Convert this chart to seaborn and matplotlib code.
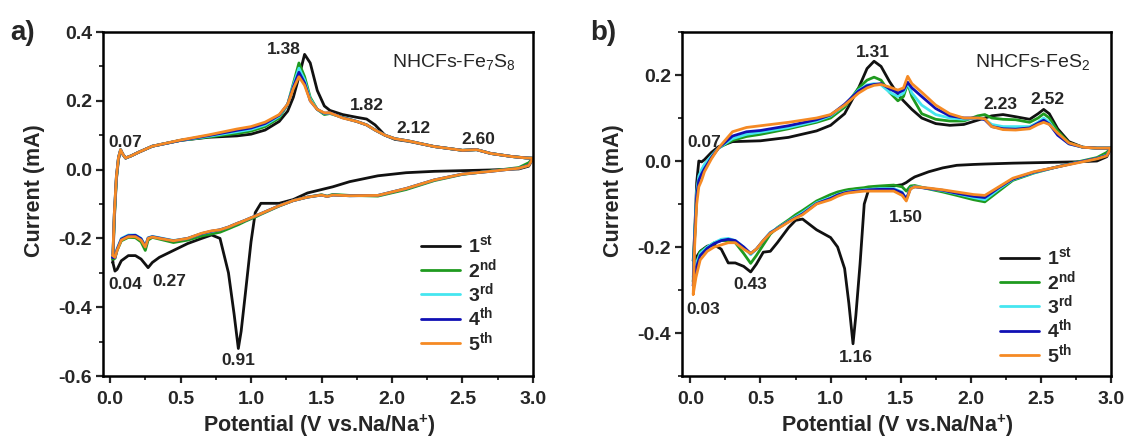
import numpy as np
import pandas as pd
import seaborn as sns
from matplotlib import pyplot as plt
from matplotlib.ticker import MultipleLocator

sns.set_style('ticks')
plt.rcParams['font.family'] = ['Liberation Sans', 'DejaVu Sans']
plt.rcParams['mathtext.fontset'] = 'custom'
plt.rcParams['mathtext.rm'] = 'Liberation Sans'
plt.rcParams['mathtext.it'] = 'Liberation Sans:italic'
plt.rcParams['mathtext.bf'] = 'Liberation Sans:bold'
plt.rcParams['axes.unicode_minus'] = False

cycles = ['1st', '2nd', '3rd', '4th', '5th']
cycle_labels = [r'$\mathbf{1^{st}}$', r'$\mathbf{2^{nd}}$', r'$\mathbf{3^{rd}}$',
                r'$\mathbf{4^{th}}$', r'$\mathbf{5^{th}}$']
colors = ['#111111', '#1f9a1f', '#45e6f0', '#1010b4', '#f58a24']

# ---- panel a: NHCFs-Fe7S8 ----
# anodic sweep (0 -> 3 V)
a_up_v = [0.02, 0.03, 0.045, 0.06, 0.075, 0.09, 0.11, 0.15, 0.2, 0.3, 0.5, 0.7, 0.9, 1.0, 1.1,
          1.2, 1.26, 1.3, 1.34, 1.38, 1.42, 1.47, 1.52, 1.56, 1.65, 1.75, 1.82, 1.88, 1.95, 2.02,
          2.12, 2.3, 2.5, 2.6, 2.7, 2.85, 2.95, 3.0]
a_up_1 = [-0.27, -0.15, -0.03, 0.03, 0.055, 0.045, 0.033, 0.04, 0.05, 0.068, 0.085, 0.094, 0.098,
          0.103, 0.115, 0.14, 0.17, 0.21, 0.27, 0.335, 0.31, 0.23, 0.185, 0.172, 0.16, 0.152, 0.147,
          0.13, 0.1, 0.088, 0.082, 0.067, 0.056, 0.058, 0.047, 0.038, 0.034, 0.033]
a_up_2 = [-0.26, -0.14, -0.025, 0.035, 0.058, 0.045, 0.034, 0.04, 0.05, 0.068, 0.085, 0.095, 0.105,
          0.112, 0.125, 0.15, 0.19, 0.25, 0.31, 0.27, 0.21, 0.175, 0.16, 0.163, 0.152, 0.14, 0.13,
          0.115, 0.1, 0.09, 0.083, 0.067, 0.056, 0.058, 0.047, 0.038, 0.034, 0.033]
a_up_3 = [-0.255, -0.135, -0.022, 0.035, 0.058, 0.045, 0.034, 0.04, 0.05, 0.068, 0.085, 0.097, 0.11,
          0.117, 0.13, 0.155, 0.19, 0.245, 0.295, 0.26, 0.205, 0.175, 0.163, 0.164, 0.151, 0.14, 0.13,
          0.115, 0.1, 0.09, 0.083, 0.067, 0.056, 0.058, 0.047, 0.038, 0.034, 0.033]
a_up_4 = [-0.255, -0.13, -0.02, 0.035, 0.058, 0.045, 0.034, 0.04, 0.05, 0.068, 0.085, 0.099, 0.114,
          0.121, 0.134, 0.158, 0.19, 0.24, 0.283, 0.252, 0.2, 0.175, 0.164, 0.165, 0.151, 0.14, 0.13,
          0.115, 0.1, 0.09, 0.083, 0.067, 0.056, 0.058, 0.047, 0.038, 0.034, 0.033]
a_up_5 = [-0.25, -0.13, -0.02, 0.035, 0.058, 0.045, 0.034, 0.04, 0.05, 0.068, 0.086, 0.101, 0.118,
          0.125, 0.138, 0.16, 0.19, 0.235, 0.27, 0.245, 0.2, 0.175, 0.165, 0.165, 0.15, 0.14, 0.13,
          0.115, 0.1, 0.09, 0.083, 0.067, 0.056, 0.058, 0.047, 0.038, 0.034, 0.033]
# cathodic sweep (3 -> 0 V)
a_lo_v = [3.0, 2.97, 2.9, 2.7, 2.5, 2.3, 2.1, 1.9, 1.7, 1.58, 1.54, 1.5, 1.4, 1.3, 1.2, 1.07, 1.03,
          1.0, 0.96, 0.93, 0.91, 0.88, 0.84, 0.78, 0.72, 0.65, 0.55, 0.45, 0.35, 0.3, 0.27, 0.25,
          0.22, 0.18, 0.13, 0.08, 0.05, 0.035, 0.02]
a_lo_1 = [0.033, 0.01, 0.002, -0.001, -0.003, -0.005, -0.009, -0.018, -0.035, -0.05, -0.054, -0.058,
          -0.068, -0.087, -0.098, -0.098, -0.125, -0.21, -0.36, -0.47, -0.52, -0.42, -0.3, -0.2,
          -0.19, -0.2, -0.215, -0.235, -0.255, -0.27, -0.285, -0.275, -0.26, -0.25, -0.25, -0.265,
          -0.29, -0.295, -0.27]
a_lo_2 = [0.033, 0.02, 0.006, -0.004, -0.014, -0.032, -0.058, -0.077, -0.075, -0.072, -0.077, -0.073,
          -0.08, -0.09, -0.106, -0.13, -0.138, -0.143, -0.15, -0.156, -0.16, -0.165, -0.172, -0.182,
          -0.187, -0.193, -0.205, -0.212, -0.202, -0.197, -0.205, -0.235, -0.21, -0.198, -0.197,
          -0.207, -0.235, -0.258, -0.26]
a_lo_3 = [0.033, 0.013, 0.004, -0.005, -0.013, -0.03, -0.055, -0.075, -0.076, -0.074, -0.078, -0.074,
          -0.08, -0.09, -0.105, -0.128, -0.135, -0.14, -0.147, -0.152, -0.155, -0.16, -0.167, -0.175,
          -0.18, -0.186, -0.2, -0.206, -0.198, -0.194, -0.198, -0.222, -0.2, -0.19, -0.19, -0.2,
          -0.23, -0.255, -0.255]
a_lo_4 = [0.033, 0.013, 0.004, -0.005, -0.013, -0.03, -0.055, -0.075, -0.076, -0.074, -0.078, -0.074,
          -0.08, -0.09, -0.105, -0.128, -0.135, -0.14, -0.147, -0.152, -0.155, -0.16, -0.167, -0.175,
          -0.179, -0.186, -0.2, -0.207, -0.199, -0.195, -0.199, -0.224, -0.201, -0.191, -0.192,
          -0.202, -0.232, -0.256, -0.256]
a_lo_5 = [0.033, 0.012, 0.004, -0.005, -0.013, -0.03, -0.055, -0.075, -0.076, -0.074, -0.078, -0.074,
          -0.08, -0.09, -0.105, -0.128, -0.135, -0.14, -0.147, -0.152, -0.155, -0.16, -0.167, -0.175,
          -0.178, -0.185, -0.2, -0.207, -0.2, -0.196, -0.2, -0.225, -0.205, -0.195, -0.195, -0.205,
          -0.235, -0.255, -0.25]

# ---- panel b: NHCFs-FeS2 ----
b_up_v = [0.02, 0.03, 0.045, 0.06, 0.08, 0.1, 0.15, 0.2, 0.3, 0.4, 0.5, 0.7, 0.9, 1.0, 1.1, 1.2,
          1.26, 1.31, 1.36, 1.42, 1.48, 1.52, 1.55, 1.58, 1.65, 1.75, 1.85, 1.95, 2.05, 2.1, 2.15,
          2.23, 2.32, 2.42, 2.48, 2.52, 2.56, 2.62, 2.7, 2.8, 2.9, 3.0]
b_up_1 = [-0.232, -0.17, -0.05, 0.0, -0.002, 0.003, 0.02, 0.033, 0.045, 0.046, 0.047, 0.055, 0.07,
          0.083, 0.11, 0.17, 0.215, 0.232, 0.22, 0.185, 0.155, 0.14, 0.13, 0.12, 0.1, 0.087, 0.083,
          0.085, 0.095, 0.1, 0.105, 0.108, 0.103, 0.097, 0.11, 0.12, 0.11, 0.075, 0.045, 0.032,
          0.03, 0.03]
b_up_2 = [-0.28, -0.18, -0.08, -0.04, -0.025, -0.01, 0.01, 0.03, 0.048, 0.057, 0.062, 0.075, 0.09,
          0.1, 0.125, 0.17, 0.188, 0.195, 0.188, 0.16, 0.14, 0.15, 0.18, 0.15, 0.11, 0.097, 0.093,
          0.093, 0.105, 0.108, 0.1, 0.097, 0.096, 0.09, 0.1, 0.11, 0.1, 0.07, 0.042, 0.032, 0.03, 0.03]
b_up_3 = [-0.27, -0.17, -0.07, -0.035, -0.02, -0.008, 0.012, 0.03, 0.052, 0.062, 0.067, 0.078,
          0.093, 0.105, 0.13, 0.165, 0.177, 0.18, 0.177, 0.16, 0.15, 0.158, 0.182, 0.158, 0.13,
          0.108, 0.1, 0.097, 0.1, 0.097, 0.085, 0.08, 0.08, 0.08, 0.09, 0.1, 0.09, 0.062, 0.04,
          0.032, 0.03, 0.03]
b_up_4 = [-0.29, -0.18, -0.08, -0.045, -0.03, -0.018, 0.008, 0.03, 0.058, 0.068, 0.071, 0.082,
          0.096, 0.107, 0.132, 0.163, 0.175, 0.178, 0.18, 0.168, 0.158, 0.165, 0.183, 0.17, 0.15,
          0.122, 0.105, 0.1, 0.1, 0.096, 0.08, 0.075, 0.074, 0.077, 0.088, 0.095, 0.086, 0.06, 0.04,
          0.032, 0.03, 0.03]
b_up_5 = [-0.31, -0.2, -0.1, -0.06, -0.045, -0.025, 0.005, 0.03, 0.068, 0.078, 0.082, 0.09, 0.1,
          0.108, 0.13, 0.158, 0.17, 0.176, 0.178, 0.172, 0.165, 0.17, 0.197, 0.18, 0.16, 0.13, 0.11,
          0.1, 0.1, 0.098, 0.08, 0.073, 0.072, 0.075, 0.085, 0.09, 0.085, 0.065, 0.042, 0.032, 0.03,
          0.03]
b_lo_v = [3.0, 2.97, 2.9, 2.75, 2.6, 2.45, 2.3, 2.2, 2.1, 2.02, 1.9, 1.8, 1.7, 1.6, 1.57, 1.54,
          1.51, 1.45, 1.35, 1.27, 1.24, 1.21, 1.18, 1.16, 1.13, 1.1, 1.05, 1.0, 0.9, 0.8, 0.75, 0.7,
          0.62, 0.57, 0.52, 0.47, 0.43, 0.38, 0.32, 0.27, 0.22, 0.17, 0.12, 0.07, 0.04, 0.02]
b_lo_1 = [0.03, 0.01, 0.0, -0.002, -0.003, -0.004, -0.005, -0.006, -0.007, -0.008, -0.01, -0.016,
          -0.025, -0.037, -0.043, -0.05, -0.055, -0.058, -0.062, -0.068, -0.1, -0.24, -0.36, -0.425,
          -0.33, -0.25, -0.2, -0.178, -0.16, -0.135, -0.138, -0.155, -0.19, -0.21, -0.212, -0.24,
          -0.258, -0.245, -0.237, -0.237, -0.205, -0.195, -0.198, -0.21, -0.225, -0.232]
b_lo_2 = [0.03, 0.02, 0.008, -0.003, -0.015, -0.028, -0.045, -0.07, -0.095, -0.09, -0.08, -0.072,
          -0.065, -0.057, -0.058, -0.07, -0.06, -0.056, -0.058, -0.06, -0.062, -0.063, -0.064,
          -0.065, -0.066, -0.068, -0.072, -0.078, -0.093, -0.115, -0.125, -0.137, -0.155, -0.17,
          -0.195, -0.22, -0.238, -0.215, -0.19, -0.185, -0.185, -0.19, -0.2, -0.21, -0.24, -0.28]
b_lo_3 = [0.03, 0.014, 0.006, -0.004, -0.015, -0.027, -0.043, -0.065, -0.09, -0.085, -0.076,
          -0.069, -0.064, -0.059, -0.063, -0.09, -0.072, -0.064, -0.064, -0.066, -0.067, -0.068,
          -0.069, -0.07, -0.071, -0.073, -0.078, -0.085, -0.097, -0.12, -0.13, -0.14, -0.156,
          -0.166, -0.185, -0.205, -0.218, -0.2, -0.185, -0.18, -0.182, -0.19, -0.2, -0.215, -0.24,
          -0.27]
b_lo_4 = [0.03, 0.013, 0.006, -0.004, -0.015, -0.026, -0.042, -0.062, -0.085, -0.082, -0.075,
          -0.068, -0.064, -0.06, -0.064, -0.088, -0.074, -0.066, -0.066, -0.067, -0.068, -0.069,
          -0.07, -0.071, -0.072, -0.074, -0.079, -0.087, -0.099, -0.123, -0.132, -0.141, -0.157,
          -0.167, -0.185, -0.205, -0.215, -0.2, -0.185, -0.182, -0.185, -0.192, -0.203, -0.22,
          -0.25, -0.29]
b_lo_5 = [0.03, 0.012, 0.005, -0.005, -0.015, -0.025, -0.04, -0.06, -0.08, -0.078, -0.072, -0.067,
          -0.063, -0.06, -0.065, -0.093, -0.08, -0.07, -0.07, -0.07, -0.07, -0.071, -0.072, -0.073,
          -0.074, -0.076, -0.082, -0.09, -0.1, -0.125, -0.133, -0.142, -0.158, -0.168, -0.185,
          -0.205, -0.215, -0.205, -0.19, -0.19, -0.195, -0.2, -0.21, -0.23, -0.27, -0.31]

# peak labels (potential, current, text)
a_peaks = [(1.23, 0.35, '1.38'), (1.82, 0.187, '1.82'), (2.15, 0.12, '2.12'), (2.61, 0.087, '2.60'),
           (0.11, 0.08, '0.07'), (0.11, -0.333, '0.04'), (0.42, -0.325, '0.27'), (0.91, -0.556, '0.91')]
b_peaks = [(1.30, 0.253, '1.31'), (2.21, 0.131, '2.23'), (2.55, 0.142, '2.52'), (0.1, 0.042, '0.07'),
           (1.54, -0.131, '1.50'), (0.43, -0.287, '0.43'), (0.09, -0.345, '0.03'), (1.18, -0.456, '1.16')]


def loops(up_v, ups, lo_v, los):
    rows = []
    for name, u, l in zip(cycles, ups, los):
        v = up_v + lo_v + up_v[:1]
        i = u + l + u[:1]
        rows.append(pd.DataFrame({'V': v, 'I': i, 'cycle': name}))
    return pd.concat(rows, ignore_index=True)


df_a = loops(a_up_v, [a_up_1, a_up_2, a_up_3, a_up_4, a_up_5],
             a_lo_v, [a_lo_1, a_lo_2, a_lo_3, a_lo_4, a_lo_5])
df_b = loops(b_up_v, [b_up_1, b_up_2, b_up_3, b_up_4, b_up_5],
             b_lo_v, [b_lo_1, b_lo_2, b_lo_3, b_lo_4, b_lo_5])

fig = plt.figure(figsize=(11.28, 4.47), dpi=100)
ax1 = fig.add_axes([0.0913, 0.1588, 0.3812, 0.7696])
ax2 = fig.add_axes([0.6046, 0.1588, 0.3803, 0.7696])

panels = [
    (ax1, df_a, a_peaks, (-0.05, 3.0), (-0.6, 0.4), 'NHCFs-Fe$_\\mathregular{7}$S$_\\mathregular{8}$',
     (2.44, 0.313), 'a)', (0.915, 0.065)),
    (ax2, df_b, b_peaks, (-0.06, 3.0), (-0.5, 0.3), 'NHCFs-FeS$_\\mathregular{2}$',
     (2.44, 0.23), 'b)', (0.918, 0.03)),
]

for ax, df, peaks, xlim, ylim, name, name_xy, tag, leg_xy in panels:
    sns.lineplot(data=df, x='V', y='I', hue='cycle', hue_order=cycles, palette=colors,
                 sort=False, estimator=None, lw=2.0, legend=False, ax=ax)
    ax.set_xlim(*xlim)
    ax.set_ylim(*ylim)
    ax.xaxis.set_major_locator(MultipleLocator(0.5))
    ax.xaxis.set_minor_locator(MultipleLocator(0.25))
    ax.yaxis.set_major_locator(MultipleLocator(0.2))
    ax.yaxis.set_minor_locator(MultipleLocator(0.1))
    ax.tick_params(which='major', direction='out', length=5, width=1.6, labelsize=14)
    ax.tick_params(which='minor', direction='out', length=3, width=1.3)
    ax.tick_params(axis='x', pad=6)
    ax.tick_params(axis='y', pad=3)
    for lab in ax.get_xticklabels() + ax.get_yticklabels():
        lab.set_fontweight('bold')
    for sp in ax.spines.values():
        sp.set_linewidth(1.8)
        sp.set_color('black')
    ax.set_xlabel(r'Potential (V vs.Na/Na$^{\mathbf{+}}$)', fontsize=15.5, fontweight='bold')
    ax.set_ylabel('Current (mA)', fontsize=15.5, fontweight='bold')
    ax.xaxis.set_label_coords(0.502, -0.105)
    ax.yaxis.set_label_coords(-0.135, 0.54)
    for x, y, s in peaks:
        ax.text(x, y, s, ha='center', va='center', fontsize=12.5, fontweight='bold')
    ax.text(name_xy[0], name_xy[1], name, ha='center', va='center', fontsize=14)
    ax.text(-0.215, 1.035, tag, transform=ax.transAxes, fontsize=20, fontweight='bold',
            ha='left', va='top')
    ax.legend(ax.get_lines(), cycle_labels, loc='lower right', bbox_to_anchor=leg_xy,
              frameon=False, fontsize=14, handlelength=2.0, handletextpad=0.4,
              labelspacing=0.02, borderaxespad=0, borderpad=0)

fig.savefig('out.png', dpi=100)
